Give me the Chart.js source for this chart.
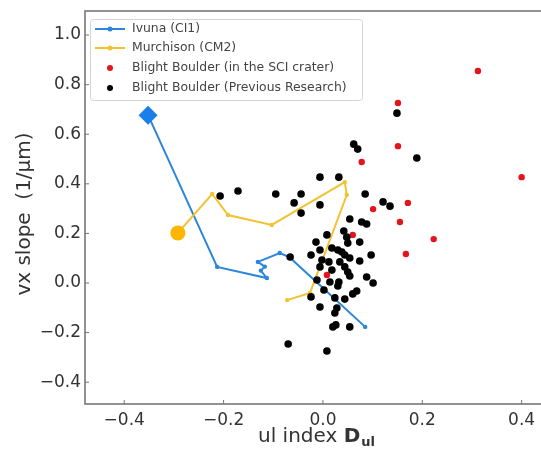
<!DOCTYPE html>
<html lang="en">
<head>
  <meta charset="UTF-8">
  <title>vx slope vs ul index</title>
  <script src="https://cdn.jsdelivr.net/npm/chart.js@4.4.4/dist/chart.umd.min.js"></script>
  <style>
    body { margin: 0; background: #fff; }
    #wrap { width: 541px; height: 453px; }
  </style>
</head>
<body>
  <div id="wrap"><canvas id="chart" width="541" height="453"></canvas></div>
  <script>
    // series names (legend order)
    const seriesNames = ['Ivuna (CI1)', 'Murchison (CM2)', 'Blight Boulder (in the SCI crater)', 'Blight Boulder (Previous Research)'];

    // Ivuna (CI1) heating sequence, first point is the unheated sample
    const ivunaX = [-0.352, -0.213, -0.113, -0.125, -0.117, -0.131, -0.087, -0.068, 0.085];
    const ivunaY = [0.677, 0.065, 0.020, 0.050, 0.066, 0.085, 0.121, 0.105, -0.177];

    // Murchison (CM2) heating sequence
    const murchX = [-0.292, -0.223, -0.191, -0.103, 0.044, 0.048, -0.026, -0.072];
    const murchY = [0.202, 0.359, 0.274, 0.234, 0.407, 0.355, -0.040, -0.069];

    // Blight Boulder, SCI crater
    const sciX = [0.312, 0.151, 0.151, 0.078, 0.400, 0.171, 0.101, 0.155, 0.223, 0.167, 0.060, 0.008];
    const sciY = [0.855, 0.726, 0.552, 0.488, 0.427, 0.323, 0.298, 0.246, 0.177, 0.117, 0.194, 0.032];

    // Blight Boulder, previous research
    const prevX = [0.149, 0.062, 0.070, 0.189, -0.006, 0.032, -0.095, -0.044, 0.085, -0.058,
                   -0.006, 0.121, 0.135, -0.044, 0.054, 0.078, 0.088, 0.008, 0.042, 0.048,
                   0.050, 0.074, -0.014, -0.006, -0.024, 0.018, 0.030, 0.038, 0.044, 0.097,
                   0.054, -0.002, 0.012, 0.034, 0.074, -0.006, 0.018, 0.044, 0.050, 0.054,
                   0.088, -0.012, 0.014, 0.032, 0.030, 0.101, 0.002, 0.068, 0.060, -0.024,
                   0.024, 0.044, -0.006, 0.028, 0.024, 0.020, 0.026, 0.054, -0.070, 0.008,
                   -0.207, -0.171, -0.066];
    const prevY = [0.685, 0.560, 0.540, 0.504, 0.427, 0.427, 0.359, 0.359, 0.359, 0.323,
                   0.315, 0.327, 0.310, 0.282, 0.258, 0.246, 0.238, 0.194, 0.210, 0.185,
                   0.161, 0.165, 0.165, 0.133, 0.113, 0.141, 0.133, 0.125, 0.113, 0.113,
                   0.101, 0.093, 0.085, 0.085, 0.089, 0.065, 0.052, 0.065, 0.044, 0.028,
                   0.024, 0.012, 0.004, 0.004, -0.012, 0.000, -0.028, -0.032, -0.044, -0.056,
                   -0.060, -0.065, -0.097, -0.101, -0.121, -0.177, -0.169, -0.177, -0.246, -0.274,
                   0.351, 0.371, 0.105];

    const xTicks = [-0.4, -0.2, 0.0, 0.2, 0.4];
    const yTicks = [-0.4, -0.2, 0.0, 0.2, 0.4, 0.6, 0.8, 1.0];

    const FONT = 'DejaVu Sans';
    const blue = '#2b86dc';
    const gold = '#f2c230';

    function pts(xs, ys) {
      return xs.map((x, i) => ({ x: x, y: ys[i] }));
    }
    function fmt(v) {
      if (Math.abs(v) < 1e-9) v = 0;
      return v.toFixed(1).replace('-', '\u2212');
    }

    // frame, inward ticks, legend box and axis titles
    const decor = {
      id: 'decor',
      afterDatasetsDraw(chart) {
        const ctx = chart.ctx, a = chart.chartArea;
        const sx = chart.scales.x, sy = chart.scales.y;
        ctx.save();
        ctx.strokeStyle = '#777';
        ctx.lineWidth = 1.6;
        ctx.strokeRect(a.left, a.top, a.right - a.left + 2, a.bottom - a.top);
        ctx.lineWidth = 1;
        ctx.beginPath();
        xTicks.forEach(v => {
          const px = sx.getPixelForValue(v);
          ctx.moveTo(px, a.bottom); ctx.lineTo(px, a.bottom - 4);
        });
        yTicks.forEach(v => {
          const py = sy.getPixelForValue(v);
          ctx.moveTo(a.left, py); ctx.lineTo(a.left + 4, py);
        });
        ctx.stroke();
        ctx.restore();
      },
      afterDraw(chart) {
        const ctx = chart.ctx;
        ctx.save();
        // legend
        ctx.fillStyle = 'rgba(255,255,255,0.85)';
        ctx.strokeStyle = '#d4d4d4';
        ctx.lineWidth = 1;
        ctx.beginPath();
        ctx.roundRect(90.5, 19.5, 272, 81, 3);
        ctx.fill();
        ctx.stroke();
        const rows = [29, 48, 68, 88];
        chart.data.datasets.forEach((ds, i) => {
          const y = rows[i];
          if (ds.showLine) {
            ctx.strokeStyle = ds.borderColor;
            ctx.lineWidth = 2;
            ctx.beginPath();
            ctx.moveTo(95, y); ctx.lineTo(125, y);
            ctx.stroke();
            ctx.fillStyle = ds.borderColor;
            ctx.beginPath(); ctx.arc(110, y, 2.5, 0, Math.PI * 2); ctx.fill();
          } else {
            ctx.fillStyle = ds.backgroundColor;
            ctx.beginPath(); ctx.arc(110, y, 3, 0, Math.PI * 2); ctx.fill();
          }
          ctx.fillStyle = '#444';
          ctx.font = '12.4px "' + FONT + '"';
          ctx.textAlign = 'left';
          ctx.textBaseline = 'middle';
          ctx.fillText(ds.label, 132, y);
        });
        // y title
        ctx.fillStyle = '#333';
        ctx.font = '20px "' + FONT + '"';
        ctx.save();
        ctx.translate(25, 214);
        ctx.rotate(-Math.PI / 2);
        ctx.textAlign = 'center';
        ctx.textBaseline = 'middle';
        ctx.fillText('vx slope  (1/\u03bcm)', 0, 0);
        ctx.restore();
        // x title with bold D_ul
        const t1 = 'ul index ';
        ctx.textBaseline = 'alphabetic';
        ctx.textAlign = 'left';
        ctx.font = '20px "' + FONT + '"';
        const w1 = ctx.measureText(t1).width;
        ctx.font = 'bold 20px "' + FONT + '"';
        const w2 = ctx.measureText('D').width;
        ctx.font = 'bold 13px "' + FONT + '"';
        const w3 = ctx.measureText('ul').width;
        let x0 = 316 - (w1 + w2 + w3) / 2;
        ctx.font = '20px "' + FONT + '"';
        ctx.fillText(t1, x0, 442);
        ctx.font = 'bold 20px "' + FONT + '"';
        ctx.fillText('D', x0 + w1, 442);
        ctx.font = 'bold 13px "' + FONT + '"';
        ctx.fillText('ul', x0 + w1 + w2 + 1, 446);
        ctx.restore();
      }
    };

    new Chart(document.getElementById('chart').getContext('2d'), {
      type: 'scatter',
      data: {
        datasets: [
          {
            label: seriesNames[0],
            data: pts(ivunaX, ivunaY),
            showLine: true,
            borderColor: blue,
            borderWidth: 2,
            backgroundColor: blue,
            pointStyle: ivunaX.map((v, i) => i === 0 ? 'rectRot' : 'circle'),
            pointRadius: ivunaX.map((v, i) => i === 0 ? 9.5 : 2.2),
            pointBackgroundColor: ivunaX.map((v, i) => i === 0 ? '#1a7fe8' : blue),
            pointBorderColor: ivunaX.map((v, i) => i === 0 ? '#1a7fe8' : blue),
            pointBorderWidth: 0,
            order: 4
          },
          {
            label: seriesNames[1],
            data: pts(murchX, murchY),
            showLine: true,
            borderColor: gold,
            borderWidth: 2,
            backgroundColor: gold,
            pointRadius: murchX.map((v, i) => i === 0 ? 7.5 : 2.2),
            pointBackgroundColor: murchX.map((v, i) => i === 0 ? '#ffb400' : gold),
            pointBorderWidth: 0,
            order: 3
          },
          {
            label: seriesNames[2],
            data: pts(sciX, sciY),
            backgroundColor: '#e3141b',
            pointRadius: 3.2,
            pointBorderWidth: 0,
            order: 2
          },
          {
            label: seriesNames[3],
            data: pts(prevX, prevY),
            backgroundColor: '#000',
            pointRadius: 3.8,
            pointBorderWidth: 0,
            order: 1
          }
        ]
      },
      options: {
        responsive: false,
        animation: false,
        layout: { autoPadding: false, padding: { top: 11, right: 0, left: 0, bottom: 0 } },
        plugins: { legend: { display: false }, tooltip: { enabled: false } },
        scales: {
          x: {
            type: 'linear',
            min: -0.479,
            max: 0.439,
            grid: { display: false, drawTicks: false },
            border: { display: false },
            ticks: { padding: 6, color: '#333', font: { family: FONT, size: 17 }, callback: fmt },
            afterBuildTicks: s => { s.ticks = xTicks.map(v => ({ value: v })); },
            afterFit: s => { s.height = 49; s.paddingLeft = 0; s.paddingRight = 0; }
          },
          y: {
            type: 'linear',
            min: -0.488,
            max: 1.097,
            grid: { display: false, drawTicks: false },
            border: { display: false },
            ticks: { padding: 4, color: '#333', font: { family: FONT, size: 17 }, callback: fmt },
            afterBuildTicks: s => { s.ticks = yTicks.map(v => ({ value: v })); },
            afterFit: s => { s.width = 85; s.paddingTop = 0; s.paddingBottom = 0; }
          }
        }
      },
      plugins: [decor]
    });
  </script>
</body>
</html>
